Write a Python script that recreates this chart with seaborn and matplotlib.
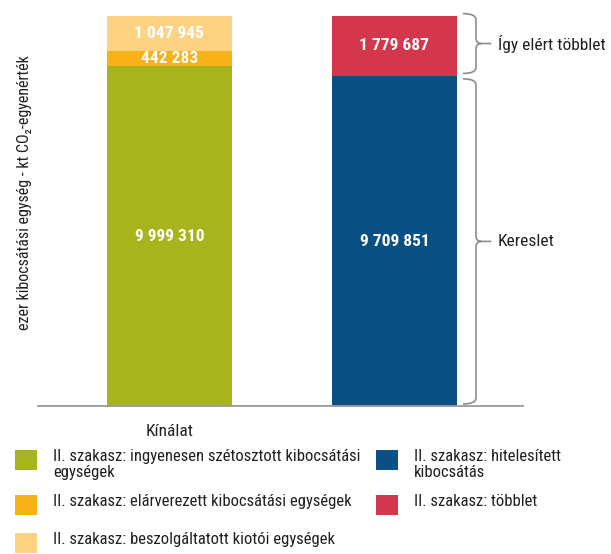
import numpy as np
import pandas as pd
import seaborn as sns
import matplotlib.pyplot as plt
from matplotlib.path import Path
from matplotlib.patches import PathPatch, Rectangle
from matplotlib import font_manager as fm

# --- data (ezer kibocsátási egység) ---
categories = ["Kínálat", "Kereslet"]
free_alloc = [9999310, 0]      # ingyenesen szétosztott
auctioned = [442283, 0]        # elárverezett
kyoto_units = [1047945, 0]     # beszolgáltatott kiotói
verified = [0, 9709851]        # hitelesített kibocsátás
surplus = [0, 1779687]         # többlet

segment_names = [
    "II. szakasz: ingyenesen szétosztott kibocsátási\negységek",
    "II. szakasz: elárverezett kibocsátási egységek",
    "II. szakasz: beszolgáltatott kiotói egységek",
    "II. szakasz: hitelesített\nkibocsátás",
    "II. szakasz: többlet",
]
segment_values = [free_alloc, auctioned, kyoto_units, verified, surplus]
segment_colors = ["#A8B41E", "#F8B116", "#FDD283", "#0B5084", "#D4364B"]

brace_labels = ["Így elért többlet", "Kereslet"]
y_label = "ezer kibocsátási egység - kt CO₂-egyenérték"


def pick_font(names):
    for n in names:
        try:
            fm.findfont(n, fallback_to_default=False)
            return n
        except ValueError:
            pass
    return "DejaVu Sans"


sns.set_theme(style="white")
narrow = pick_font(["Liberation Sans Narrow", "DejaVu Sans Condensed", "Roboto Condensed", "Liberation Sans"])
plt.rcParams["font.family"] = [narrow, "DejaVu Sans"]
text_col = "#231f20"

# long table with stacked bases
rows = []
for name, vals, col in zip(segment_names, segment_values, segment_colors):
    for cat, v in zip(categories, vals):
        if v > 0:
            rows.append(dict(segment=name, category=cat, value=v, color=col))
df = pd.DataFrame(rows)
df["top"] = df.groupby("category")["value"].cumsum()
df["base"] = df["top"] - df["value"]

fig = plt.figure(figsize=(6.11, 5.54), dpi=100)
W, H = 611, 554
ax = fig.add_axes([38 / W, 1 - 406 / H, 485 / W, 396 / H])

bar_w = 0.556
# overlapping cumulative bars, tallest first
for _, r in df.sort_values("top", ascending=False).iterrows():
    sns.barplot(data=pd.DataFrame([r]), x="category", y="top", order=categories,
                color=r["color"], width=bar_w, saturation=1, errorbar=None,
                linewidth=0, ax=ax)

for _, r in df.iterrows():
    i = categories.index(r["category"])
    ax.text(i, r["base"] + r["value"] / 2, f"{int(r['value']):,}".replace(",", " "),
            ha="center", va="center", color="white", fontsize=12.5, fontweight="bold")

ax.set_xlim(-0.584, 1.571)
ax.set_ylim(0, 11.657e6)
ax.set_yticks([])
ax.set_xticks([0])
ax.set_xticklabels([categories[0]], fontsize=12.5, color=text_col)
ax.tick_params(axis="x", length=0, pad=13)
ax.set_xlabel("")
ax.set_ylabel("")
sns.despine(ax=ax, left=True)
ax.spines["bottom"].set_color("#9a9a9a")
ax.spines["bottom"].set_linewidth(1.3)

# curly braces for the demand bar
def brace(ax, y0, y1, x0, x1, x2, r, label):
    ym = (y0 + y1) / 2
    rx = (x2 - x1) * 0.35
    verts = [(x0, y1), (x1, y1), (x1, y1 - r), (x1, ym + r), (x1, ym), (x1 + rx, ym), (x2, ym),
             (x0, y0), (x1, y0), (x1, y0 + r), (x1, ym - r), (x1, ym), (x1 + rx, ym)]
    codes = [Path.MOVETO, Path.CURVE3, Path.CURVE3, Path.LINETO, Path.CURVE3, Path.CURVE3, Path.LINETO,
             Path.MOVETO, Path.CURVE3, Path.CURVE3, Path.LINETO, Path.CURVE3, Path.CURVE3]
    ax.add_patch(PathPatch(Path(verts, codes), fill=False, edgecolor="#8c8c8c", lw=1.2, clip_on=False))
    ax.text(x2 + 0.03, ym, label, ha="left", va="center", fontsize=12.5, color=text_col)

dem_top = verified[1] + surplus[1]
r_y = 0.17e6
brace(ax, verified[1] + 0.08e6, dem_top + 0.06e6, 1.304, 1.362, 1.43, r_y, brace_labels[0])
brace(ax, 0.06e6, verified[1] - 0.08e6, 1.304, 1.362, 1.43, r_y, brace_labels[1])

fig.text(25 / W, 1 - 193 / H, y_label, rotation=90, ha="center", va="center",
         fontsize=11.5, color=text_col)

# legend, drawn by hand so the swatch sits next to the first text line
legend_slots = [(15, 450), (15, 495), (15, 533), (376, 450), (376, 495)]
for (lx, ly), name, col in zip(legend_slots, segment_names, segment_colors):
    fig.add_artist(Rectangle((lx / W, 1 - (ly + 20) / H), 22 / W, 20 / H,
                             transform=fig.transFigure, color=col, lw=0))
    fig.text((lx + 38) / W, 1 - (ly - 1) / H, name, ha="left", va="top",
             fontsize=12, color=text_col, linespacing=1.05)

fig.savefig("out.png", dpi=100)
